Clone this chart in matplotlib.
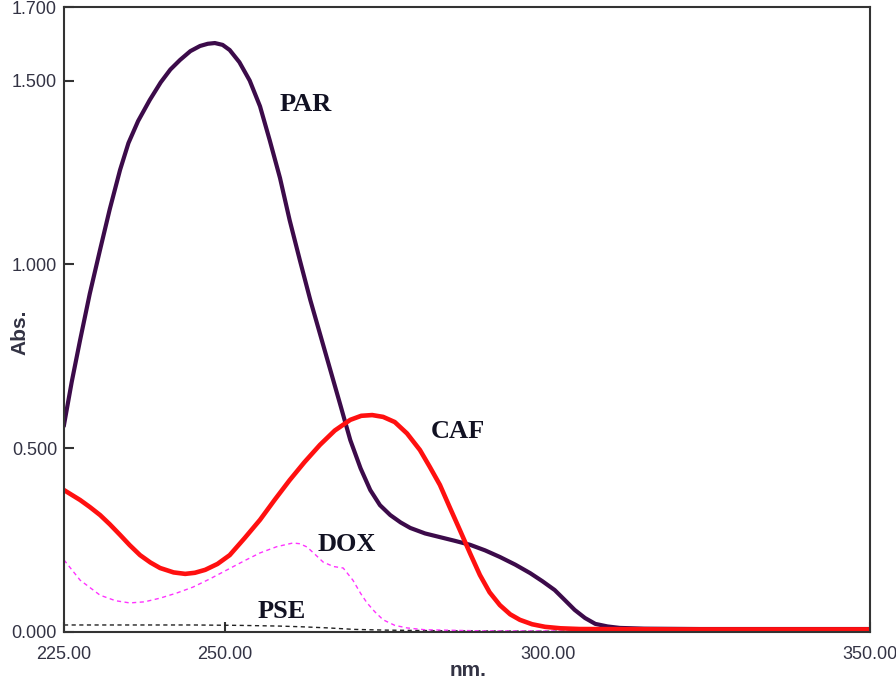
import matplotlib
matplotlib.use("Agg")
import matplotlib.pyplot as plt

# wavelength (nm) / absorbance
par_x = [225, 226.2, 227.5, 229, 230.6, 232.1, 233.7, 235, 236.5, 238.3, 240, 241.5, 243, 244.6,
         246.1, 247.3, 248.4, 249.6, 250.7, 252.2, 253.8, 255.4, 256.9, 258.5, 260, 261.6, 263.2,
         264.8, 266.3, 267.9, 269.4, 271, 272.5, 274, 275.6, 277.2, 278.7, 281, 283.3, 285.6, 288,
         290.3, 292.6, 295, 297.3, 299.2, 301.1, 302.6, 304.2, 305.8, 307.4, 309.3, 311.2, 315,
         323.6, 335, 350]
par_y = [0.563, 0.68, 0.794, 0.92, 1.04, 1.15, 1.257, 1.33, 1.39, 1.447, 1.495, 1.53, 1.556, 1.58,
         1.594, 1.6, 1.602, 1.597, 1.583, 1.55, 1.50, 1.43, 1.338, 1.235, 1.12, 1.01, 0.903,
         0.805, 0.713, 0.615, 0.522, 0.445, 0.386, 0.345, 0.318, 0.298, 0.283, 0.268, 0.258, 0.248,
         0.237, 0.222, 0.204, 0.183, 0.160, 0.138, 0.114, 0.088, 0.060, 0.038, 0.022, 0.015, 0.011,
         0.009, 0.008, 0.008, 0.008]

caf_x = [225, 227.5, 229, 230.6, 232.1, 233.7, 235.2, 236.8, 238.4, 239.9, 242, 243.8, 245.3, 246.9,
         248.8, 250.7, 253, 255.4, 257.7, 260, 262.3, 264.7, 267, 269.4, 271.1, 272.8, 274.5,
         276.3, 278.2, 280.2, 281.7, 283.3, 284.8, 286.4, 288, 289.5, 291, 292.6, 294.2, 295.7,
         297.6, 299.6, 302, 305, 320, 350]
caf_y = [0.386, 0.359, 0.34, 0.318, 0.293, 0.264, 0.236, 0.209, 0.189, 0.174, 0.162, 0.158, 0.161,
         0.169, 0.185, 0.209, 0.255, 0.305, 0.36, 0.413, 0.462, 0.509, 0.548, 0.577, 0.588, 0.590,
         0.585, 0.571, 0.54, 0.495, 0.45, 0.40, 0.34, 0.277, 0.213, 0.155, 0.108, 0.073, 0.048,
         0.033, 0.021, 0.014, 0.010, 0.008, 0.007, 0.007]

dox_x = [225, 227.5, 230.6, 233, 235.2, 237.5, 239.9, 242.5, 245, 247.7, 250.3, 252.9, 255.4,
         258, 260.5, 261.6, 262.7, 264, 265.2, 266.8, 268.3, 269.8, 271, 272, 273.2, 274.5,
         276.3, 278.2, 281, 290, 320, 350]
dox_y = [0.196, 0.141, 0.10, 0.085, 0.079, 0.082, 0.092, 0.106, 0.122, 0.145, 0.169, 0.193, 0.215,
         0.232, 0.242, 0.240, 0.231, 0.21, 0.19, 0.178, 0.174, 0.141, 0.105, 0.079, 0.055, 0.033,
         0.018, 0.011, 0.006, 0.003, 0.002, 0.002]

pse_x = [225, 235, 245, 252, 258.5, 262, 266, 270, 275, 285, 300, 350]
pse_y = [0.019, 0.019, 0.019, 0.018, 0.016, 0.014, 0.011, 0.007, 0.005, 0.003, 0.002, 0.002]

x_ticks = [225, 250, 300, 350]
y_ticks = [0.0, 0.5, 1.0, 1.5, 1.7]

fig = plt.figure(figsize=(8.96, 6.81), dpi=100)
ax = fig.add_axes([0.0714, 0.072, 0.8996, 0.9177])

ax.plot(pse_x, pse_y, color='#222222', linewidth=1.0, linestyle=(0, (3, 2.5)))
ax.plot(dox_x, dox_y, color='#ff33ff', linewidth=1.0, linestyle=(0, (3, 2.5)))
ax.plot(par_x, par_y, color='#3c0b4a', linewidth=3.0, solid_joinstyle='round')
ax.plot(caf_x, caf_y, color='#ff1010', linewidth=3.3, solid_joinstyle='round')

lab_font = dict(family='Liberation Serif', fontweight='bold', fontsize=19, color='#111122',
                ha='center', va='center')
ax.text(262.45, 1.436, 'PAR', **lab_font)
ax.text(286.1, 0.545, 'CAF', **lab_font)
ax.text(268.9, 0.239, 'DOX', **lab_font)
ax.text(258.7, 0.057, 'PSE', **lab_font)

ax.set_xlim(225, 350)
ax.set_ylim(0, 1.7)
ax.set_xticks(x_ticks)
ax.set_xticklabels([f'{v:.2f}' for v in x_ticks])
ax.set_yticks(y_ticks)
ax.set_yticklabels([f'{v:.3f}' for v in y_ticks])

for s in ax.spines.values():
    s.set_color('#333333')
    s.set_linewidth(1.5)
ax.tick_params(direction='in', length=7, width=1.5, color='#333333',
               labelsize=13, labelcolor='#333344')
ax.tick_params(axis='x', pad=10)
ax.tick_params(axis='y', pad=5)
for t in ax.get_xticklabels() + ax.get_yticklabels():
    t.set_family('Liberation Sans')
# no visible tick mark at 300 in the reference
ax.xaxis.get_major_ticks()[2].tick1line.set_visible(False)

ax.set_xlabel('nm.', family='Liberation Sans', fontweight='bold', fontsize=15, color='#333344')
ax.set_ylabel('Abs.', family='Liberation Sans', fontweight='bold', fontsize=15, color='#333344')
ax.xaxis.set_label_coords(0.501, -0.0624)
ax.xaxis.label.set_va('center')
ax.yaxis.set_label_coords(-0.0546, 0.48)
ax.yaxis.label.set_va('center')

fig.savefig('out.png', dpi=100)
